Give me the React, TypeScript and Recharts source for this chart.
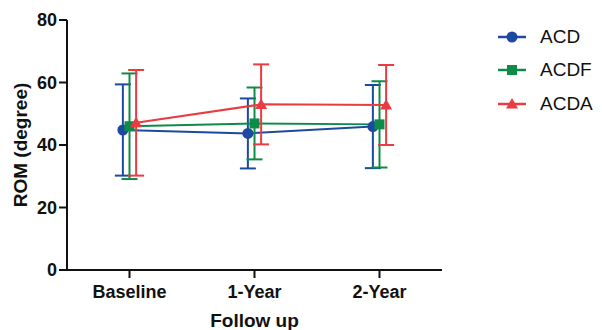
import { LineChart, Line, XAxis, YAxis, ErrorBar, Legend } from 'recharts'

const categories = ['Baseline', '1-Year', '2-Year']
const yTicks = [0, 20, 40, 60, 80]

const acdMean = [44.8, 43.7, 45.9]
const acdSd = [14.6, 11.2, 13.3]
const acdfMean = [46.0, 46.9, 46.6]
const acdfSd = [16.9, 11.5, 13.8]
const acdaMean = [47.1, 53.0, 52.8]
const acdaSd = [16.9, 12.8, 12.8]

const FONT = '"Liberation Sans", Arial, sans-serif'

type Series = { name: string; color: string; shape: 'circle' | 'square' | 'triangle'; shift: number; mean: number[]; sd: number[] }

const series: Series[] = [
  { name: 'ACD', color: '#1d4aa0', shape: 'circle', shift: -0.053, mean: acdMean, sd: acdSd },
  { name: 'ACDF', color: '#0e8b47', shape: 'square', shift: 0, mean: acdfMean, sd: acdfSd },
  { name: 'ACDA', color: '#ea3c40', shape: 'triangle', shift: 0.053, mean: acdaMean, sd: acdaSd },
]

function Marker({ shape, color, cx, cy }: { shape: string; color: string; cx: number; cy: number }) {
  if (shape === 'circle') return <circle cx={cx} cy={cy} r={5.5} fill={color} />
  if (shape === 'square') return <rect x={cx - 5} y={cy - 5} width={10} height={10} fill={color} />
  return <polygon points={`${cx},${cy - 6} ${cx + 6},${cy + 4.5} ${cx - 6},${cy + 4.5}`} fill={color} />
}

function LegendBox() {
  return (
    <div style={{ fontFamily: FONT, fontSize: 19, color: '#111' }}>
      {series.map((s) => (
        <div key={s.name} style={{ display: 'flex', alignItems: 'center', height: 33.5 }}>
          <svg width={30} height={14} style={{ marginRight: 13 }}>
            <line x1={1} y1={7} x2={29} y2={7} stroke={s.color} strokeWidth={2.5} />
            <Marker shape={s.shape} color={s.color} cx={15} cy={7} />
          </svg>
          <span>{s.name}</span>
        </div>
      ))}
    </div>
  )
}

export default function App() {
  return (
    <div style={{ position: 'absolute', left: 0, top: 0, background: '#fff' }}>
      <LineChart width={602} height={330} margin={{ top: 20, right: 160, bottom: 0, left: 0 }}>
        <XAxis
          type="number"
          dataKey="x"
          domain={[-0.5, 2.5]}
          ticks={[0, 1, 2]}
          tickFormatter={(v: number) => categories[v]}
          tick={{ fill: '#111', fontSize: 18, fontWeight: 'bold', fontFamily: FONT }}
          axisLine={{ stroke: '#111', strokeWidth: 2 }}
          tickLine={{ stroke: '#111', strokeWidth: 2 }}
          tickSize={8}
          tickMargin={7}
          height={60}
          label={{ value: 'Follow up', position: 'insideBottom', offset: 3, fill: '#111', fontSize: 19, fontWeight: 'bold', fontFamily: FONT }}
        />
        <YAxis
          type="number"
          domain={[0, 80]}
          ticks={yTicks}
          tick={{ fill: '#111', fontSize: 18, fontWeight: 'bold', fontFamily: FONT }}
          axisLine={{ stroke: '#111', strokeWidth: 2 }}
          tickLine={{ stroke: '#111', strokeWidth: 2 }}
          tickSize={8}
          tickMargin={2}
          width={67}
          label={{ value: 'ROM (degree)', angle: -90, position: 'insideLeft', offset: 20, fill: '#111', fontSize: 19, fontWeight: 'bold', fontFamily: FONT, style: { textAnchor: 'middle' } }}
        />
        {series.map((s) => (
          <Line
            key={s.name}
            name={s.name}
            data={categories.map((c, i) => ({ x: i + s.shift, y: s.mean[i], err: s.sd[i] }))}
            dataKey="y"
            stroke={s.color}
            strokeWidth={2}
            isAnimationActive={false}
            dot={(p: any) => <Marker key={`${s.name}-${p.index}`} shape={s.shape} color={s.color} cx={p.cx} cy={p.cy} />}
            activeDot={false}
          >
            <ErrorBar dataKey="err" direction="y" width={8} stroke={s.color} strokeWidth={2} isAnimationActive={false} />
          </Line>
        ))}
        <Legend
          layout="vertical"
          verticalAlign="middle"
          align="center"
          content={() => <LegendBox />}
          wrapperStyle={{ position: 'absolute', left: 497, top: 20, width: 105 }}
        />
      </LineChart>
    </div>
  )
}
